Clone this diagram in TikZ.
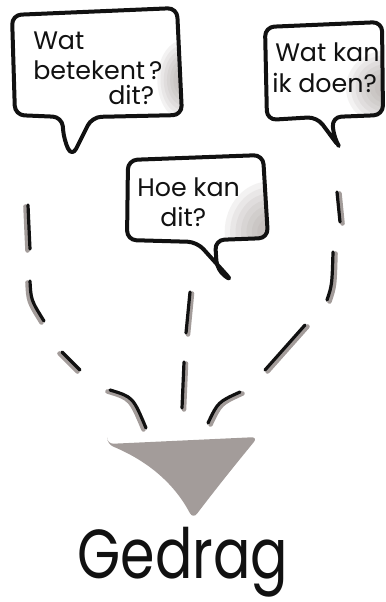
\documentclass[tikz,border=0pt]{standalone}
\usepackage{fontspec}
\setmainfont{Poppins}
\usepackage{tikz}
\usetikzlibrary{calc}
\definecolor{Ink}{HTML}{111111}
\definecolor{Taupe}{HTML}{A39C9A}

\begin{document}
\begin{tikzpicture}[x=0.75pt,y=-0.75pt,
  bubble/.style={draw=Ink,line width=3pt,rounded corners=7pt,line join=round,fill=white},
  glow/.style args={#1/#2/#3}{path picture={\foreach \r in {1,0.88,...,0.2}
    {\fill[Taupe,opacity=0.12] #1 ellipse (\r*#2 and \r*#3);}}},
  scribble/.style={font=\fontsize{19}{22}\selectfont,text=Ink,inner sep=0pt,anchor=base west},
  dashink/.style={Ink,line width=2.4pt,line cap=round},
  dashshade/.style={Taupe,line width=3.4pt,line cap=round}]
  \useasboundingbox (0,0) rectangle (385,602);
  % speech bubbles
  \draw[bubble,glow={(184,80)/20pt/30pt}]
    (12,15) -- (177,8) -- (182,115) -- (92,117) -- (72,157) -- (64,140) -- (62,117) -- (15,115) -- cycle;
  \draw[bubble,glow={(386,88)/30pt/28pt}]
    (265,27) -- (382,22) -- (383,115) -- (332,117) -- (334,138) -- (340,148) -- (317,117) -- (267,120) -- cycle;
  \draw[bubble,glow={(270,232)/34pt/38pt}]
    (128,160) -- (263,155) -- (268,238) -- (215,240) -- (217,270) -- (233,282) -- (197,242) -- (127,240) -- cycle;
  \node[scribble] (wat) at (33,50) {Wat};
  \node[scribble] (betekent) at (33,80) {betekent\hspace{3pt}?};
  \node[scribble] (dit) at (108,105) {dit?};
  \node[scribble] (watkan) at (275,62) {Wat kan};
  \node[scribble] (doen) at (272,93) {ik doen?};
  \node[scribble] (hoekan) at (137,196) {Hoe kan};
  \node[scribble] (hoedit) at (160,226) {dit?};
  % dashed strokes towards the funnel
  \foreach \ax/\ay/\cx/\cy/\bx/\by/\sx in {
    28/205/29/228/30/249/-2.5, 30/281/31/300/44/321/-2.5,
    62/352/71/361/80/370/-2.5, 110/390/133/397/146/428/-2.5,
    190/292/188/312/186/333/2, 184/362/183/385/182/408/2,
    337/192/339/207/340/222/2.5, 333/252/332/285/327/300/2.5,
    305/325/285/347/265/370/2.5, 240/392/218/402/208/423/2.5}
  {
    \draw[dashshade,shift={(\sx,1.5)}] (\ax,\ay) .. controls (\cx,\cy) .. (\bx,\by);
    \draw[dashink] (\ax,\ay) .. controls (\cx,\cy) .. (\bx,\by);
  }
  % funnel
  \fill[Taupe,rounded corners=5pt] (107,444) -- (258,437)
    .. controls (235,465) and (215,490) .. (193,519)
    .. controls (175,485) and (150,462) .. cycle;
  \node[anchor=base,inner sep=0pt,text=Ink] (gedrag) at (183,578)
    {\scalebox{0.8}[1]{\fontsize{52}{52}\selectfont Gedrag}};
\end{tikzpicture}
\end{document}
